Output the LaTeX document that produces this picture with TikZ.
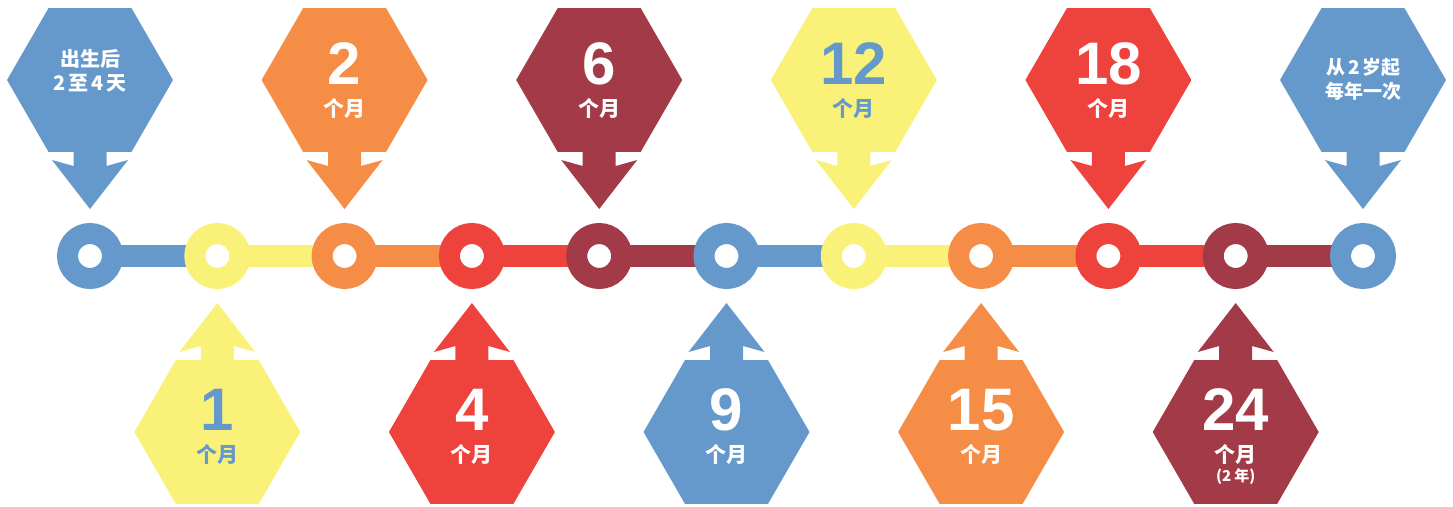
\documentclass[tikz,border=0pt]{standalone}
\usepackage{fontspec}
\newfontfamily\cjk{Noto Sans CJK SC}
\newfontfamily\numf{Liberation Sans}
\usetikzlibrary{shapes.geometric,backgrounds}
\definecolor{cblue}{HTML}{6599CC}
\definecolor{cyellow}{HTML}{FAF278}
\definecolor{corange}{HTML}{F68D46}
\definecolor{cdark}{HTML}{A23B47}
\definecolor{cred}{HTML}{EE433D}
\tikzset{
  hexa/.style={regular polygon, regular polygon sides=6, minimum size=166pt, inner sep=0pt, outer sep=0pt, draw=none},
  ring/.style={circle, draw=#1, line width=21pt, minimum size=45pt, inner sep=0pt, fill=white},
  seg/.style={line width=22pt, draw=#1},
  bignum/.style={font=\numf\bfseries\fontsize{60}{60}\selectfont, inner sep=0pt},
  unit/.style={font=\cjk\bfseries\fontsize{21}{21}\selectfont, inner sep=0pt},
  note/.style={font=\cjk\bfseries\fontsize{20}{20}\selectfont, inner sep=0pt},
  notesm/.style={font=\cjk\bfseries\fontsize{19}{19}\selectfont, inner sep=0pt},
  small/.style={font=\cjk\bfseries\fontsize{15}{15}\selectfont, inner sep=0pt},
}
\begin{document}
\begin{tikzpicture}[x=1pt,y=-1pt]
\useasboundingbox (0,0) rectangle (1453,506);
% timeline stations
\foreach \i/\c in {0/cblue,1/cyellow,2/corange,3/cred,4/cdark,5/cblue,6/cyellow,7/corange,8/cred,9/cdark,10/cblue}
  \node[ring=\c] (c\i) at ({90+127.3*\i},256) {};
\begin{scope}[on background layer]
\foreach \i/\j/\c in {0/1/cblue,1/2/cyellow,2/3/corange,3/4/cred,4/5/cdark,5/6/cblue,6/7/cyellow,7/8/corange,8/9/cred,9/10/cdark}
  \draw[seg=\c] (c\i.center) -- (c\j.center);
\end{scope}
% top callouts
\foreach \i/\c in {0/cblue,2/corange,4/cdark,6/cyellow,8/cred,10/cblue}{
  \node[hexa, fill=\c] (h\i) at ({90+127.3*\i},80) {};
  \fill[\c] ([shift={(-16.5,70)}]h\i.center) -- ([shift={(-16.5,86)}]h\i.center)
    -- ([shift={(-38,80)}]h\i.center) -- ([shift={(0,129)}]h\i.center)
    -- ([shift={(38,80)}]h\i.center) -- ([shift={(16.5,86)}]h\i.center)
    -- ([shift={(16.5,70)}]h\i.center) -- cycle;
}
% bottom callouts
\foreach \i/\c in {1/cyellow,3/cred,5/cblue,7/corange,9/cdark}{
  \node[hexa, fill=\c] (h\i) at ({90+127.3*\i},432) {};
  \fill[\c] ([shift={(-16.5,-70)}]h\i.center) -- ([shift={(-16.5,-86)}]h\i.center)
    -- ([shift={(-38,-80)}]h\i.center) -- ([shift={(0,-129)}]h\i.center)
    -- ([shift={(38,-80)}]h\i.center) -- ([shift={(16.5,-86)}]h\i.center)
    -- ([shift={(16.5,-70)}]h\i.center) -- cycle;
}
% texts top
\node[note, white] (t0a) at (90,58.5) {出生后};
\node[note, white] (t0b) at (90,83.5) {2\hspace{3pt}至\hspace{3pt}4\hspace{3pt}天};
\node[bignum, white] (n2) at (344.6,64) {2};
\node[unit, white] (u2) at (344.6,108) {个月};
\node[bignum, white] (n4) at (599.2,64) {6};
\node[unit, white] (u4) at (599.2,108) {个月};
\node[bignum, cblue] (n6) at (853.8,64) {12};
\node[unit, cblue] (u6) at (853.8,108) {个月};
\node[bignum, white] (n8) at (1108.4,64) {18};
\node[unit, white] (u8) at (1108.4,108) {个月};
\node[notesm, white] (t10a) at (1363.5,67.5) {从\hspace{3pt}2\hspace{3pt}岁起};
\node[notesm, white] (t10b) at (1363.5,91.5) {每年一次};
% texts bottom
\node[bignum, cblue] (n1) at (217.3,410) {1};
\node[unit, cblue] (u1) at (217.3,454) {个月};
\node[bignum, white] (n3) at (471.9,410) {4};
\node[unit, white] (u3) at (471.9,454) {个月};
\node[bignum, white] (n5) at (726.5,410) {9};
\node[unit, white] (u5) at (726.5,454) {个月};
\node[bignum, white] (n7) at (981.1,410) {15};
\node[unit, white] (u7) at (981.1,454) {个月};
\node[bignum, white] (n9) at (1235.7,410) {24};
\node[unit, white] (u9) at (1235.7,454) {个月};
\node[small, white] (y9) at (1235.7,477) {(2\hspace{3pt}年)};
\end{tikzpicture}
\end{document}
